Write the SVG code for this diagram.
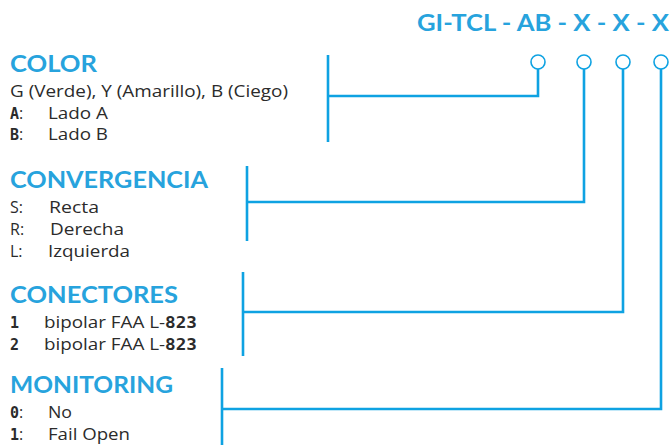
<svg xmlns="http://www.w3.org/2000/svg" width="671" height="445" viewBox="0 0 671 445">
<style>
.h{font-family:Lato,"Liberation Sans",sans-serif;font-weight:700;font-size:22px;fill:#27a3dd}
.t{font-family:"Open Sans","Liberation Sans",sans-serif;font-size:16px;fill:#2b2b2b}
.m{font-family:"DejaVu Sans Mono",monospace;font-size:15px;font-weight:700;fill:#2b2b2b}
.ln{fill:none;stroke:#0ea2e2;stroke-width:2.6}
.c{fill:#fff;stroke:#0ea2e2;stroke-width:1.6}
</style>
<rect width="671" height="445" fill="#fff"/>
<g id="title"><text class="h" x="417" y="31" textLength="252" lengthAdjust="spacingAndGlyphs">GI-TCL - AB - X - X - X</text></g>
<g id="color">
<text class="h" x="10" y="72" textLength="87" lengthAdjust="spacingAndGlyphs">COLOR</text>
<text class="t" x="10" y="97" textLength="278" lengthAdjust="spacingAndGlyphs">G (Verde), Y (Amarillo), B (Ciego)</text>
<text class="m" x="10" y="119">A<tspan class="t" font-weight="400">:</tspan></text><text class="t" x="48" y="119" textLength="60" lengthAdjust="spacingAndGlyphs">Lado A</text>
<text class="m" x="10" y="140">B<tspan class="t" font-weight="400">:</tspan></text><text class="t" x="48" y="140" textLength="60" lengthAdjust="spacingAndGlyphs">Lado B</text>
</g>
<g id="convergencia">
<text class="h" x="10" y="188" textLength="198" lengthAdjust="spacingAndGlyphs">CONVERGENCIA</text>
<text class="t" x="10" y="213">S:</text><text class="t" x="49" y="213" textLength="50" lengthAdjust="spacingAndGlyphs">Recta</text>
<text class="t" x="10" y="235">R:</text><text class="t" x="50" y="235" textLength="74" lengthAdjust="spacingAndGlyphs">Derecha</text>
<text class="t" x="10" y="257">L:</text><text class="t" x="48" y="257" textLength="82" lengthAdjust="spacingAndGlyphs">Izquierda</text>
</g>
<g id="conectores">
<text class="h" x="10" y="303" textLength="168" lengthAdjust="spacingAndGlyphs">CONECTORES</text>
<text class="m" x="10" y="328">1</text><text class="t" x="44" y="328" textLength="153" lengthAdjust="spacingAndGlyphs">bipolar FAA L-<tspan class="m" font-size="14">823</tspan></text>
<text class="m" x="10" y="350">2</text><text class="t" x="44" y="350" textLength="153" lengthAdjust="spacingAndGlyphs">bipolar FAA L-<tspan class="m" font-size="14">823</tspan></text>
</g>
<g id="monitoring">
<text class="h" x="10" y="393" textLength="163" lengthAdjust="spacingAndGlyphs">MONITORING</text>
<text class="m" x="10" y="418">0<tspan class="t" font-weight="400">:</tspan></text><text class="t" x="48" y="418" textLength="24" lengthAdjust="spacingAndGlyphs">No</text>
<text class="m" x="10" y="440">1<tspan class="t" font-weight="400">:</tspan></text><text class="t" x="48" y="440" textLength="82" lengthAdjust="spacingAndGlyphs">Fail Open</text>
</g>
<g id="connectors">
<path class="ln" d="M328 55V142M328 96H538V69"/>
<path class="ln" d="M247 166V241M247 202H584V69"/>
<path class="ln" d="M243 272V356M243 312H623V69"/>
<path class="ln" d="M222 368V445M222 409H661V69"/>
<circle class="c" cx="538" cy="62" r="7"/>
<circle class="c" cx="584" cy="62" r="7"/>
<circle class="c" cx="623" cy="62" r="7"/>
<circle class="c" cx="661" cy="62" r="7"/>
</g>
</svg>
